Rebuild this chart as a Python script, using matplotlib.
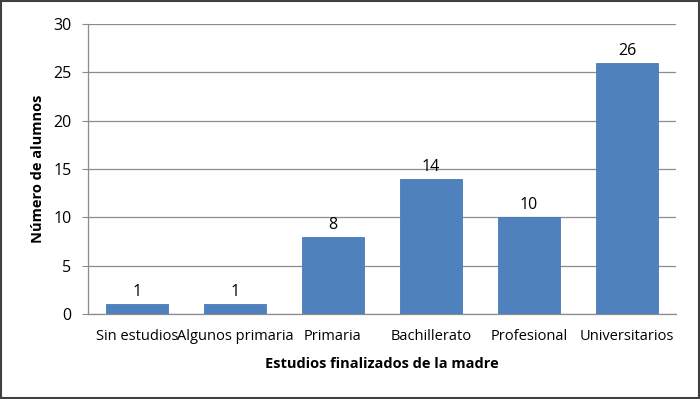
import matplotlib.pyplot as plt
from matplotlib.patches import Rectangle

categorias = ['Sin estudios', 'Algunos primaria', 'Primaria', 'Bachillerato', 'Profesional', 'Universitarios']
alumnos = [1, 1, 8, 14, 10, 26]
yticks = [0, 5, 10, 15, 20, 25, 30]

plt.rcParams['font.family'] = ['Open Sans', 'DejaVu Sans']

fig = plt.figure(figsize=(7, 3.99), dpi=100)
ax = fig.add_axes([0.1257, 0.213, 0.84, 0.727])

x = range(len(categorias))
ax.bar(x, alumnos, width=0.63, color='#4F81BD', edgecolor='#4A7AB5', linewidth=0.6, zorder=3)
for xi, v in zip(x, alumnos):
    ax.text(xi, v + 0.4, str(v), ha='center', va='bottom', fontsize=11.5, color='black')

ax.set_xlim(-0.5, len(categorias) - 0.5)
ax.set_ylim(0, 30)
ax.set_yticks(yticks)
ax.yaxis.grid(True, color='#8c8c8c', linewidth=0.9, zorder=0)
ax.set_xticks(list(x))
ax.set_xticklabels(categorias, fontsize=10.5)
ax.tick_params(axis='y', labelsize=11.5, length=4, color='#8c8c8c', pad=8)
ax.tick_params(axis='x', length=0, pad=11)

for s in ['top', 'right']:
    ax.spines[s].set_visible(False)
for s in ['left', 'bottom']:
    ax.spines[s].set_color('#8c8c8c')
    ax.spines[s].set_linewidth(0.9)

ax.set_xlabel('Estudios finalizados de la madre', fontsize=10.5, fontweight='bold', labelpad=9)
ax.set_ylabel('Número de alumnos', fontsize=10.5, fontweight='bold', labelpad=6)

fig.patches.append(Rectangle((0.002, 0.003), 0.996, 0.994, transform=fig.transFigure,
                             fill=False, edgecolor='#404040', linewidth=1.5))

fig.savefig('out.png', dpi=100)
